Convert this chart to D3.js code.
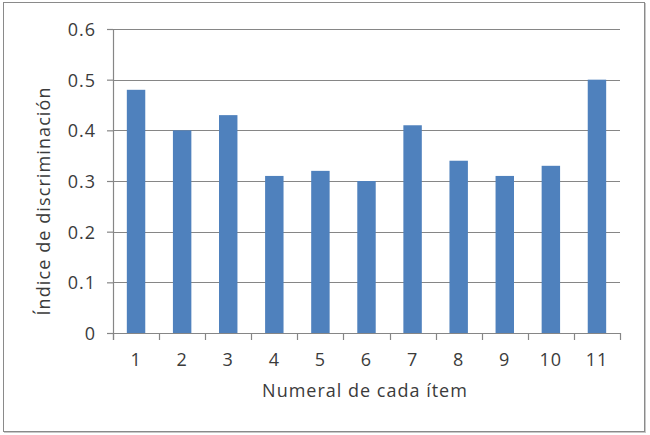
<!DOCTYPE html>
<html>
<head>
<meta charset="utf-8">
<script src="https://cdn.jsdelivr.net/npm/d3@7"></script>
<style>
  html, body { margin: 0; padding: 0; background: #fff; }
  svg { display: block; }
  text { font-family: "Open Sans", sans-serif; fill: #3b3b3b; }
</style>
</head>
<body>
<svg id="chart" width="650" height="435"></svg>
<script>
const categories = ["1", "2", "3", "4", "5", "6", "7", "8", "9", "10", "11"];
const values = [0.48, 0.40, 0.43, 0.31, 0.32, 0.30, 0.41, 0.34, 0.31, 0.33, 0.50];
const yTicks = [0, 0.1, 0.2, 0.3, 0.4, 0.5, 0.6];
const xTitle = "Numeral de cada ítem";
const yTitle = "Índice de discriminación";

const svg = d3.select("#chart");
const W = 650, H = 435;
const margin = { left: 113, right: 30, top: 29, bottom: 102 };
const plotW = W - margin.left - margin.right; // 507
const plotH = H - margin.top - margin.bottom; // 304

// outer frame
svg.append("rect").attr("x", 4.5).attr("y", 3.5).attr("width", 641).attr("height", 429)
  .attr("fill", "none").attr("stroke", "#c8c8c8").attr("stroke-width", 1);
svg.append("rect").attr("x", 3.5).attr("y", 2.5).attr("width", 641).attr("height", 429)
  .attr("fill", "#fff").attr("stroke", "#8a8a8a").attr("stroke-width", 1);

const g = svg.append("g").attr("transform", `translate(${margin.left},${margin.top})`);

const x = d3.scaleBand().domain(categories).range([0, plotW]).paddingInner(0.6).paddingOuter(0.3);
const y = d3.scaleLinear().domain([0, 0.6]).range([plotH, 0]);

// gridlines + y ticks
const yAxis = d3.axisLeft(y).tickValues(yTicks).tickSize(6).tickPadding(10)
  .tickFormat(d => d === 0 ? "0" : d3.format(".1f")(d));
const ya = g.append("g").attr("class", "y-axis").call(yAxis);
ya.select(".domain").remove();
ya.selectAll(".tick line").attr("stroke", "#868686").attr("stroke-width", 1.2);
ya.selectAll(".tick text").attr("font-size", 18).style("letter-spacing", "1px").attr("fill", "#3b3b3b")
  .attr("x", -17).attr("dy", "0.36em");

g.append("g").selectAll("line.grid").data(yTicks.filter(d => d > 0)).join("line")
  .attr("class", "grid")
  .attr("x1", 0).attr("x2", plotW)
  .attr("y1", d => Math.round(y(d)) + 0.5).attr("y2", d => Math.round(y(d)) + 0.5)
  .attr("stroke", "#868686").attr("stroke-width", 1.2);

// bars
g.append("g").selectAll("rect.bar").data(values).join("rect")
  .attr("class", "bar")
  .attr("x", (d, i) => x(categories[i]))
  .attr("width", x.bandwidth())
  .attr("y", d => y(d))
  .attr("height", d => y(0) - y(d))
  .attr("fill", "#4f81bd");

// x axis: ticks at band boundaries
const step = x.step();
const boundaries = d3.range(categories.length + 1).map(i => i * plotW / categories.length);
g.append("g").selectAll("line.xt").data(boundaries).join("line")
  .attr("x1", d => Math.round(d) + 0.5).attr("x2", d => Math.round(d) + 0.5)
  .attr("y1", plotH).attr("y2", plotH + 7)
  .attr("stroke", "#868686").attr("stroke-width", 1.2);
// axis lines
g.append("line").attr("x1", 0).attr("x2", plotW).attr("y1", plotH + 0.5).attr("y2", plotH + 0.5)
  .attr("stroke", "#868686").attr("stroke-width", 1.2);
g.append("line").attr("x1", 0.5).attr("x2", 0.5).attr("y1", 0).attr("y2", plotH + 7)
  .attr("stroke", "#868686").attr("stroke-width", 1.2);

g.append("g").selectAll("text.xl").data(categories).join("text")
  .attr("x", d => x(d) + x.bandwidth() / 2)
  .attr("y", plotH + 33)
  .attr("text-anchor", "middle")
  .attr("font-size", 18).style("letter-spacing", "1px")
  .text(d => d);

// titles
svg.append("text").attr("x", 365).attr("y", 397).attr("text-anchor", "middle")
  .attr("font-size", 18).style("letter-spacing", "1px").text(xTitle);
svg.append("text").attr("transform", "translate(50,201) rotate(-90)").attr("text-anchor", "middle")
  .attr("font-size", 18).style("letter-spacing", "1.1px").text(yTitle);
</script>
</body>
</html>
